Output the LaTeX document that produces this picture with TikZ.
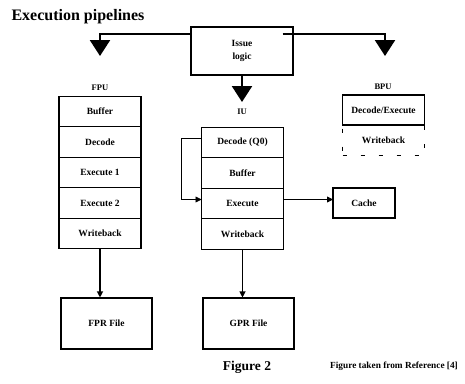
\documentclass[tikz,border=0pt]{standalone}
\usepackage{fontspec}
\setmainfont{Liberation Serif}
\usetikzlibrary{positioning,arrows.meta}
\begin{document}
\begin{tikzpicture}[
    x=1pt, y=-1pt,
    stage/.style={draw, line width=1.1pt, minimum width=82pt, minimum height=30.5pt, outer sep=0pt, inner sep=1pt, align=center, font=\fontsize{9.5}{11}\selectfont\bfseries},
    filebox/.style={draw, line width=1.1pt, minimum width=91pt, minimum height=51pt, align=center, font=\fontsize{9.5}{11}\selectfont\bfseries},
    unitlabel/.style={font=\fontsize{8.5}{10}\selectfont\bfseries},
    bigarr/.style={-{Triangle[width=20pt,length=16pt]}, line width=2.4pt},
    arr/.style={-{Triangle[width=6pt,length=6pt]}, line width=1.1pt},
]
\useasboundingbox[fill=white] (0,0) rectangle (465,383);

% --- Title ---
\node[anchor=west, font=\fontsize{16}{18}\selectfont\bfseries] (title) at (8,17) {Execution pipelines};

% --- Issue logic ---
\node[draw, line width=1.1pt, minimum width=102pt, minimum height=48pt, align=center,
      font=\fontsize{9.5}{13}\selectfont\bfseries] (issue) at (242,51) {Issue\\logic};

% --- Column 1: FPU ---
\node[unitlabel] (fpu) at (100,88) {FPU};
\node[stage] (fpuBuf) at (100,111.5) {Buffer};
\node[stage, below=0pt of fpuBuf] (fpuDec) {Decode};
\node[stage, below=0pt of fpuDec] (fpuEx1) {Execute 1};
\node[stage, below=0pt of fpuEx1] (fpuEx2) {Execute 2};
\node[stage, below=0pt of fpuEx2] (fpuWb) {Writeback};
\node[filebox] (fpr) at (106.5,323.5) {FPR File};

% --- Column 2: IU ---
\node[unitlabel] (iu) at (242,112) {IU};
\node[stage] (iuDec) at (242.5,142.5) {Decode (Q0)};
\node[stage, below=0pt of iuDec] (iuBuf) {Buffer};
\node[stage, below=0pt of iuBuf] (iuExe) {Execute};
\node[stage, below=0pt of iuExe] (iuWb) {Writeback};
\node[filebox] (gpr) at (248.5,323.5) {GPR File};
\node[stage, minimum width=62pt, minimum height=30pt] (cache) at (364,203) {Cache};

% --- Column 3: BPU ---
\node[unitlabel] (bpu) at (383,87) {BPU};
\node[stage, minimum height=30pt] (bpuDec) at (383.5,110) {Decode/Execute};
\node[stage, line width=0.9pt, dash pattern=on 4pt off 14pt, below=0pt of bpuDec] (bpuWb) {Writeback};

% --- Issue arrows ---
\coordinate (fpuIn) at (100,56);
\coordinate (bpuIn) at (385,56);
\coordinate (iuIn) at (242,102);
\draw[bigarr] ([yshift=17pt]issue.west) -| (fpuIn);
\draw[bigarr] ([xshift=-11pt,yshift=17pt]issue.east) -| (bpuIn);
\draw[bigarr] (issue.south) -- (iuIn);

% --- Stage arrows ---
\draw[arr] (fpuWb.south) -- (fpuWb.south |- fpr.north);
\draw[arr] (iuWb.south) -- (iuWb.south |- gpr.north);
\draw[arr, line width=0.8pt] ([yshift=4pt]iuExe.east) -- ([yshift=4pt]iuExe.east -| cache.west);
\draw[arr, line width=0.8pt] ([yshift=4pt]iuDec.west) -- ++(-20,0) |- ([yshift=4pt]iuExe.west);

% --- Caption ---
\node[font=\fontsize{13.5}{15}\selectfont\bfseries] (fig) at (247,367) {Figure 2};
\node[font=\fontsize{9.3}{11}\selectfont\bfseries] (ref) at (394,366) {Figure taken from Reference [4]};
\end{tikzpicture}
\end{document}
